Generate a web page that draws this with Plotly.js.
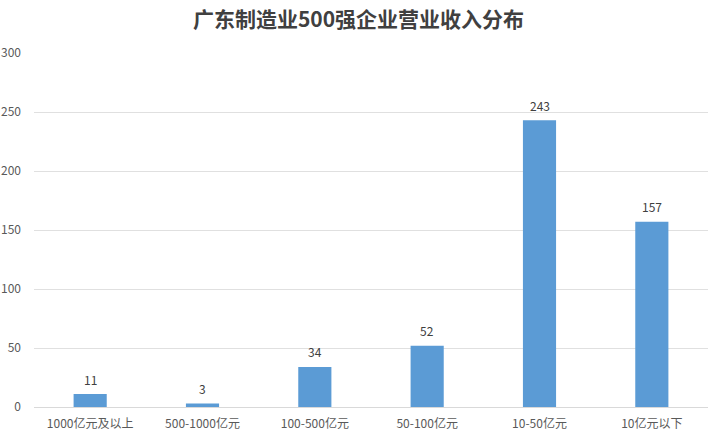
<!DOCTYPE html>
<html><head><meta charset="utf-8">
<script src="https://cdn.plot.ly/plotly-3.0.1.min.js"></script>
<style>html,body{margin:0;padding:0;background:#fff}</style>
</head><body>
<div id="chart" style="width:717px;height:442px"></div>
<script>
const categories = ["1000亿元及以上","500-1000亿元","100-500亿元","50-100亿元","10-50亿元","10亿元以下"];
const counts = [11, 3, 34, 52, 243, 157];
const yTicks = [0, 50, 100, 150, 200, 250, 300];

const trace = {
  type: "bar",
  x: categories,
  y: counts,
  textposition: "none",
  marker: {color: "#5b9bd5"},
  hoverinfo: "x+y"
};

const labels = categories.map((c, i) => ({
  x: c, y: counts[i], xref: "x", yref: "y",
  text: String(counts[i]), showarrow: false,
  yanchor: "middle", yshift: 15,
  font: {size: 12, color: "#404040", family: "Noto Sans CJK SC"}
}));

const layout = {
  width: 717, height: 442,
  margin: {l: 34, r: 9, t: 53, b: 35},
  paper_bgcolor: "#fff", plot_bgcolor: "#fff",
  font: {family: "Noto Sans CJK SC, sans-serif", color: "#595959", size: 12},
  title: {text: "<b>广东制造业500强企业营业收入分布</b>", x: 0.5, xanchor: "center", y: 0.955, yanchor: "middle",
          font: {size: 21, color: "#404040", family: "Noto Sans CJK SC"}},
  bargap: 0.705,
  showlegend: false,
  annotations: labels,
  xaxis: {showline: true, linecolor: "#d9d9d9", linewidth: 1, ticks: "", ticklabelstandoff: 6,
          tickfont: {size: 12, color: "#595959"}, fixedrange: true},
  yaxis: {range: [0, 300], tickvals: yTicks, ticktext: yTicks.map(String), showgrid: true, gridcolor: "#e0e0e0",
          zeroline: false, showline: false, ticks: "", ticklabelstandoff: 12,
          tickfont: {size: 12, color: "#595959"}, fixedrange: true}
};

Plotly.newPlot("chart", [trace], layout, {displayModeBar: false, staticPlot: true});
</script>
</body></html>
